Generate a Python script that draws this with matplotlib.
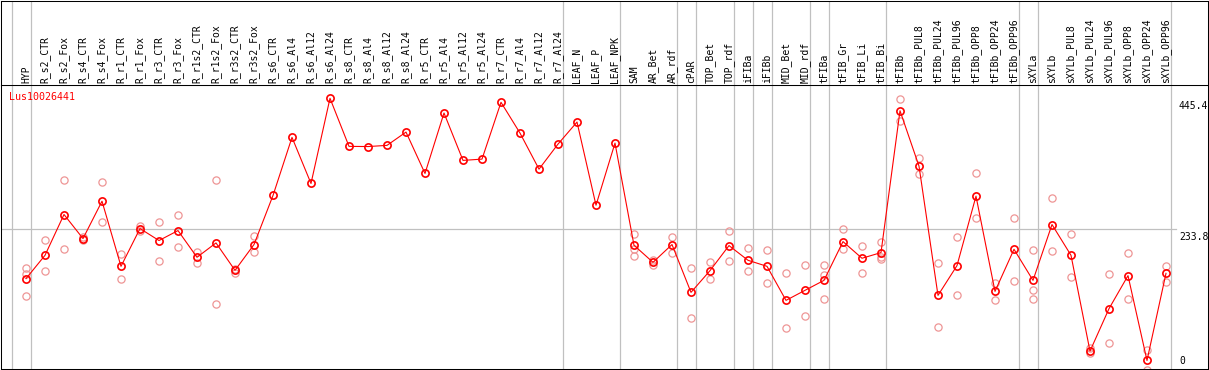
import matplotlib
matplotlib.use("Agg")
import matplotlib.pyplot as plt
import matplotlib.transforms as mtransforms

# categories (left to right)
categories = ["HYP", "R_s2_CTR", "R_s2_Fox", "R_s4_CTR", "R_s4_Fox", "R_r1_CTR", "R_r1_Fox",
              "R_r3_CTR", "R_r3_Fox", "R_r1s2_CTR", "R_r1s2_Fox", "R_r3s2_CTR", "R_r3s2_Fox",
              "R_s6_CTR", "R_s6_Al4", "R_s6_Al12", "R_s6_Al24", "R_s8_CTR", "R_s8_Al4",
              "R_s8_Al12", "R_s8_Al24", "R_r5_CTR", "R_r5_Al4", "R_r5_Al12", "R_r5_Al24",
              "R_r7_CTR", "R_r7_Al4", "R_r7_Al12", "R_r7_Al24", "LEAF_N", "LEAF_P", "LEAF_NPK",
              "SAM", "AR_Bet", "AR_rdf", "cPAR", "TOP_Bet", "TOP_rdf", "iFIBa", "iFIBb",
              "MID_Bet", "MID_rdf", "tFIBa", "tFIB_Gr", "tFIB_Li", "tFIB_Bi", "tFIBb",
              "tFIBb_PUL8", "tFIBb_PUL24", "tFIBb_PUL96", "tFIBb_OPP8", "tFIBb_OPP24",
              "tFIBb_OPP96", "sXYLa", "sXYLb", "sXYLb_PUL8", "sXYLb_PUL24", "sXYLb_PUL96",
              "sXYLb_OPP8", "sXYLb_OPP24", "sXYLb_OPP96"]

# mean expression per category
means = [152.4, 190.3, 256.6, 217.5, 278.2, 172.4, 233.8, 214.3, 230.5, 187.1, 210.4, 165.9, 207.8,
         287.5, 381.9, 307.0, 445.4, 367.3, 367.0, 368.9, 390.5, 323.3, 421.5, 344.5, 346.6,
         438.9, 388.9, 330.3, 371.0, 406.8, 271.7, 372.6,
         206.6, 178.9, 207.8, 130.1, 165.4, 206.1, 182.2, 172.4, 117.1, 133.4, 149.6, 212.6,
         185.5, 194.7, 425.2, 335.2, 125.2, 173.6, 286.4, 131.7, 200.1, 149.6, 240.3, 190.3,
         34.6, 103.6, 157.3, 19.4, 161.0]

# individual replicates (empty = single sample)
replicates = [[169.7, 160.2, 123.6], [214.8, 165.4], [311.9, 201.2], [220.4, 214.8], [308.7, 245.2],
              [193.1, 152.4], [237.5, 230.2], [245.2, 181.7], [256.6, 203.4], [195.7, 177.8],
              [311.9, 110.6], [168.0, 161.5], [221.3, 195.7],
              [], [], [], [], [], [], [], [], [], [], [], [], [], [], [], [], [], [], [],
              [225.7, 200.1, 189.9], [182.2, 175.2], [220.1, 194.7], [170.3, 87.8], [178.9, 151.8],
              [229.4, 181.7], [201.7, 164.3], [199.6, 144.8], [162.2, 71.5], [174.1, 92.2],
              [174.1, 157.8, 118.7], [232.7, 201.2], [205.0, 162.2], [211.5, 187.6, 183.8],
              [444.3, 408.0], [347.7, 322.2], [177.3, 73.1], [220.8, 125.2], [323.3, 250.6],
              [145.3, 117.1], [251.7, 148.0], [199.6, 133.4, 118.7], [283.1, 198.0],
              [225.7, 154.5], [39.0, 30.8], [159.4, 48.2], [194.7, 119.9], [35.7, 4.3],
              [173.6, 146.4]]

# index of last category in each group (vertical separators)
group_ends = [-1, 0, 28, 31, 34, 35, 37, 38, 39, 41, 42, 45, 52, 53, 60]

gene = "Lus10026441"
ref_value = 233.8
tick_values = [445.4, 233.8, 0]
tick_labels = ["445.4", "233.8", "0"]

W, H = 1209, 370
fig = plt.figure(figsize=(W / 100, H / 100), dpi=100)
plt.rcParams['font.family'] = ['DejaVu Sans Mono']

xlo = (0.5 - 26) / 19
xhi = (1207.5 - 26) / 19
ax = fig.add_axes([0.5 / W, (H - 368.5) / H, 1207 / W, 283.5 / H])
axt = fig.add_axes([0.5 / W, (H - 85) / H, 1207 / W, 84.5 / H])
for a in (ax, axt):
    a.set_xlim(xlo, xhi)
    a.set_xticks([])
    a.set_yticks([])
    for s in a.spines.values():
        s.set_linewidth(0.75)
        s.set_color("black")
ax.set_ylim(6.4, 467.0)
axt.set_ylim(0, 85)

x = list(range(len(categories)))

for g in group_ends:
    ax.axvline(g + 0.25, color="#c0c0c0", lw=0.9, zorder=1)
    axt.axvline(g + 0.25, color="#c0c0c0", lw=0.9, zorder=1)
ax.plot([xlo, 60.55], [ref_value, ref_value], color="#c0c0c0", lw=0.9, zorder=1)

for i, reps in enumerate(replicates):
    if reps:
        ax.plot([i] * len(reps), reps, linestyle="none", marker="o", ms=5.2,
                mfc="none", mec="#ee9595", mew=0.9, zorder=2, clip_on=True)

ax.plot(x, means, color="red", lw=0.8, marker="o", ms=5.2, mfc="none", mec="red",
        mew=1.2, zorder=3)

for i, c in enumerate(categories):
    axt.text(i, 2, c, rotation=90, ha="center", va="bottom", fontsize=7, color="black")

ax.annotate(gene, xy=(0, 1), xycoords="axes fraction", xytext=(9, -12),
            textcoords="offset pixels", color="red", fontsize=7.2, va="center", ha="left")

down = mtransforms.ScaledTranslation(0, -3 / 100, fig.dpi_scale_trans)
for v, lab in zip(tick_values, tick_labels):
    if v > 6.4:
        ax.text(60.68, v, lab, fontsize=7, ha="left", va="top",
                transform=ax.transData + down)
    else:
        ax.annotate(lab, xy=(60.68, 0), xycoords=("data", "axes fraction"), xytext=(0, 3),
                    textcoords="offset pixels", fontsize=7, ha="left", va="bottom")

fig.savefig("out.png", dpi=100)
